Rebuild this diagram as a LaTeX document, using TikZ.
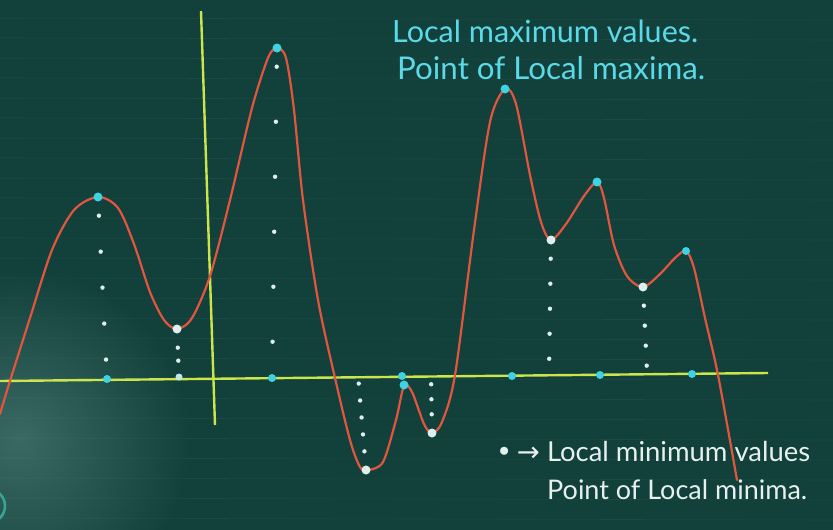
\documentclass[tikz,border=0pt]{standalone}
\usepackage{fontspec}
\setmainfont{Lato}
\newfontfamily\symfont{DejaVu Sans}
\usetikzlibrary{calc}
\definecolor{boardbg}{HTML}{12403A}
\definecolor{boardhaze}{HTML}{3A6963}
\definecolor{axiscol}{HTML}{CBE64C}
\definecolor{curvecol}{HTML}{E2553F}
\definecolor{cyancol}{HTML}{3FD2E2}
\definecolor{whitecol}{HTML}{DDEFEC}
\definecolor{cyantext}{HTML}{5CD9E8}
\definecolor{whitetext}{HTML}{E6F1EE}
\definecolor{ringcol}{HTML}{3AA497}
\tikzset{
  axisline/.style={draw=axiscol, line width=2.4pt},
  curveline/.style={draw=curvecol, line width=2.2pt, line cap=round, line join=round},
  cydot/.style={circle, fill=cyancol, inner sep=0pt, minimum size=9pt},
  whdot/.style={circle, fill=whitecol, inner sep=0pt, minimum size=9pt},
  smalldot/.style={circle, fill=whitecol, inner sep=0pt, minimum size=7pt},
  dotline/.style={draw=whitecol, line width=4.4pt, line cap=round, dash pattern=on 0.01pt off 24pt, shorten <=14pt, shorten >=8pt},
  cytext/.style={text=cyantext, inner sep=0pt, anchor=base west},
  whtext/.style={text=whitetext, inner sep=0pt, anchor=base west},
}
\begin{document}
\begin{tikzpicture}[x=1pt,y=-1pt]
\useasboundingbox (0,0) rectangle (833,530);
% board
\fill[boardbg] (0,0) rectangle (833,530);
\begin{scope}
\clip (0,0) rectangle (833,530);
\shade[inner color=boardhaze, outer color=boardbg] (20,440) circle (170);
\foreach \yy in {18,38,...,528} {
  \draw[white, opacity=0.05, line width=0.6pt] (0,\yy) -- (833,\yy+2);
}
\draw[ringcol, line width=2.5pt] (-12,506) circle (17);
\end{scope}
% axes
\coordinate (xl) at (0,381);
\coordinate (xr) at (768,373);
\coordinate (yt) at (201,11);
\coordinate (yb) at (215,425);
\draw[axisline] (xl) -- (xr);
\draw[axisline] (yt) -- (yb);
% curve
\draw[curveline] plot[smooth, tension=0.5] coordinates {
 (0,414) (10,381) (30,318) (52,250) (74,210) (98,197) (118,208) (134,244)
 (150,292) (164,320) (177,329) (192,318) (210,276) (230,200) (252,108)
 (268,58) (277,48) (286,58) (294,110) (303,200) (318,300) (335,378)
 (350,440) (360,467) (368,470) (383,462) (396,420) (404,386) (412,392)
 (424,424) (432,433) (442,422) (455,375) (474,230) (490,122) (505,89)
 (516,104) (530,175) (541,222) (551,240) (566,224) (584,196) (597,182)
 (604,198) (614,245) (627,276) (643,287) (660,274) (675,258) (686,251)
 (694,268) (705,318) (718,375) (737,480)
};
% extrema
\node[cydot] (max1) at (98,197) {};
\node[whdot] (min1) at (177,329) {};
\node[cydot] (max2) at (277,48) {};
\node[whdot] (min2) at (366,470) {};
\node[cydot] (max3) at (404,385) {};
\node[whdot] (min3) at (432,433) {};
\node[cydot] (max4) at (505,89) {};
\node[whdot] (min4) at (551,240) {};
\node[cydot] (max5) at (597,182) {};
\node[whdot] (min5) at (643,287) {};
\node[cydot, minimum size=8pt] (max6) at (686,251) {};
% axis points
\node[cydot, minimum size=8pt] (a1) at (107,379) {};
\node[smalldot, fill=whitecol!80!cyancol] (a2) at (179,377) {};
\node[cydot, minimum size=8pt] (a3) at (272,378) {};
\coordinate (a4) at (358,375);
\node[cydot, minimum size=8pt] (a5) at (402,376) {};
\coordinate (a6) at (431,374);
\node[cydot, minimum size=8pt] (a7) at (512,376) {};
\coordinate (a8) at (549,372);
\node[cydot, minimum size=8pt] (a9) at (600,375) {};
\coordinate (a10) at (647,372);
\node[cydot, minimum size=8pt] (a11) at (692,374) {};
% dotted projections
\draw[dotline, dash pattern=on 0.01pt off 36pt] (max1) -- (a1);
\draw[dotline, dash pattern=on 0.01pt off 13pt] (min1) -- (a2);
\draw[dotline, dash pattern=on 0.01pt off 55pt] (max2) -- (a3);
\draw[dotline, shorten >=0pt, dash pattern=on 0.01pt off 17pt] (min2) -- (a4);
\draw[dotline, shorten >=0pt, dash pattern=on 0.01pt off 15pt] (min3) -- (a6);
\draw[dotline, shorten >=0pt, dash pattern=on 0.01pt off 25pt] (min4) -- (a8);
\draw[dotline, shorten >=0pt, dash pattern=on 0.01pt off 20pt] (min5) -- (a10);
% texts
\node[cytext] (t1) at (392,42) {\resizebox{306pt}{!}{\fontsize{26}{30}\selectfont Local maximum values.}};
\node[cytext] (t2) at (397,79) {\resizebox{308pt}{!}{\fontsize{26}{30}\selectfont Point of Local maxima.}};
\node[whtext] (t3) at (496,461) {\resizebox{314pt}{!}{\fontsize{22}{26}\selectfont{\symfont •\,→}\ Local minimum values}};
\node[whtext] (t4) at (547,499) {\resizebox{260pt}{!}{\fontsize{22}{26}\selectfont Point of Local minima.}};
\end{tikzpicture}
\end{document}
